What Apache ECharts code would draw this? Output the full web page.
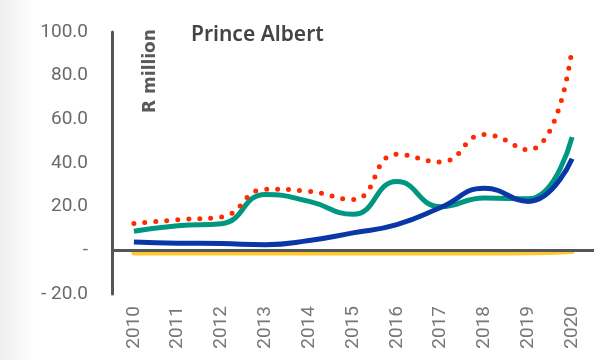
<!DOCTYPE html>
<html>
<head>
<meta charset="utf-8">
<script src="https://cdn.jsdelivr.net/npm/echarts@6/dist/echarts.min.js"></script>
<style>
html, body { margin: 0; padding: 0; background: #fff; }
#container { width: 597px; height: 360px; }
</style>
</head>
<body>
<div id="container"></div>
<script>
var years = ['2010','2011','2012','2013','2014','2015','2016','2017','2018','2019','2020'];
var totalVals  = [12.3, 14.0, 15.3, 28.0, 27.0, 23.3, 44.0, 40.5, 53.0, 46.0, 92.5];
var tealVals   = [8.7, 11.3, 12.2, 25.6, 22.4, 16.5, 31.5, 20.0, 24.0, 23.6, 51.8];
var blueVals   = [3.8, 3.3, 3.1, 2.6, 4.5, 8.0, 11.8, 19.6, 28.4, 22.4, 42.0];
var yellowVals = [-1.2, -1.2, -1.2, -1.2, -1.2, -1.2, -1.2, -1.2, -1.2, -1.1, -0.5];

var dom = document.getElementById("container");
var myChart = echarts.init(dom);
var option = {
    animation: false,
    title: {
        text: 'Prince Albert',
        left: 186,
        top: 20,
        textStyle: { fontFamily: 'Noto Sans', fontSize: 21, fontWeight: 600, color: '#444' }
    },
    graphic: [
        {
            type: 'rect',
            shape: { x: 0, y: 0, width: 36, height: 360 },
            style: {
                fill: new echarts.graphic.LinearGradient(0, 0, 1, 0, [
                    { offset: 0, color: '#efefef' },
                    { offset: 1, color: '#ffffff' }
                ])
            },
            z: -10
        },
        {
            type: 'text',
            x: 151,
            y: 71,
            rotation: Math.PI / 2,
            style: {
                text: 'R million',
                fontFamily: 'DejaVu Sans',
                fontSize: 17,
                fontWeight: 'bold',
                fill: '#5a5a5a',
                textAlign: 'center',
                textVerticalAlign: 'middle'
            }
        }
    ],
    grid: { left: 112, right: 3, top: 32, bottom: 66 },
    xAxis: {
        type: 'category',
        data: years,
        boundaryGap: true,
        axisLine: { show: false },
        axisTick: { show: false },
        axisLabel: {
            rotate: 90,
            margin: 12,
            fontFamily: 'Roboto',
            fontSize: 19,
            color: '#777'
        }
    },
    yAxis: {
        type: 'value',
        min: -20,
        max: 100,
        interval: 20,
        splitLine: { show: false },
        axisTick: { show: false },
        axisLine: { show: true, lineStyle: { color: '#555', width: 3 } },
        axisLabel: {
            margin: 24,
            fontFamily: 'Roboto',
            fontSize: 19,
            color: '#6a6a6a',
            formatter: function (v) {
                if (v === 0) return '-';
                if (v < 0) return '- ' + Math.abs(v).toFixed(1);
                return v.toFixed(1);
            }
        }
    },
    series: [
        {
            name: 'teal',
            type: 'line',
            smooth: true,
            symbol: 'none',
            data: tealVals,
            lineStyle: { color: '#009781', width: 5 },
            markLine: {
                silent: true,
                symbol: 'none',
                label: { show: false },
                lineStyle: { color: '#555', width: 3, type: 'solid' },
                data: [{ yAxis: 0 }]
            }
        },
        {
            name: 'blue',
            type: 'line',
            smooth: true,
            symbol: 'none',
            data: blueVals,
            lineStyle: { color: '#0a37a8', width: 5 }
        },
        {
            name: 'total',
            type: 'line',
            smooth: true,
            symbol: 'none',
            data: totalVals,
            lineStyle: { color: '#ff2a00', width: 5, type: [0, 11], cap: 'round' }
        },
        {
            name: 'yellow',
            type: 'line',
            smooth: true,
            symbol: 'none',
            data: yellowVals,
            lineStyle: { color: '#ffc830', width: 5, cap: 'round' }
        }
    ]
};
myChart.setOption(option, true);
</script>
</body>
</html>
